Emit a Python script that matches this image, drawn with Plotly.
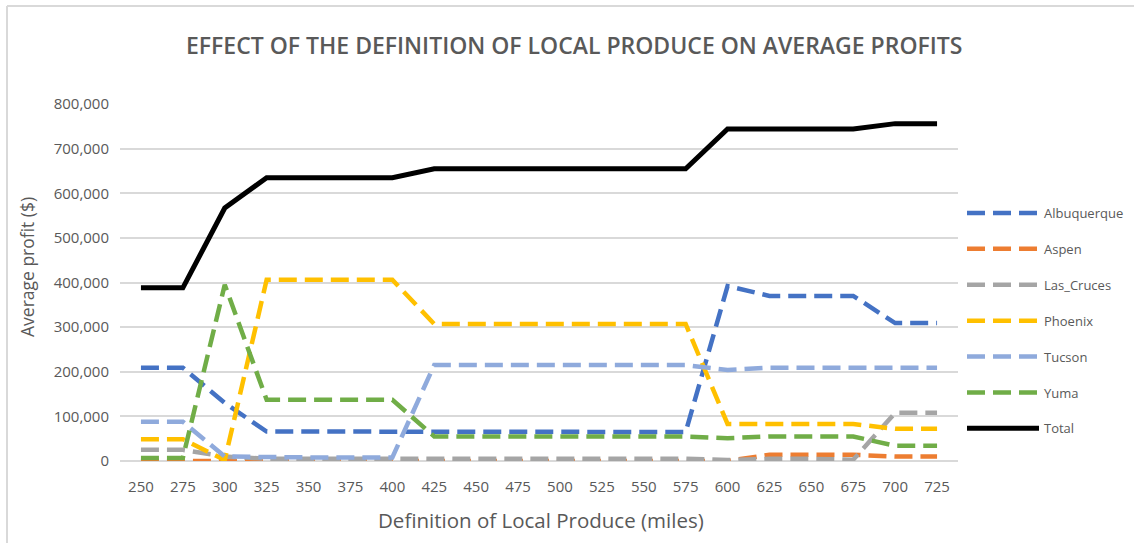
import plotly.graph_objects as go

# Definition of local produce (miles)
miles = ["250", "275", "300", "325", "350", "375", "400", "425", "450", "475",
         "500", "525", "550", "575", "600", "625", "650", "675", "700", "725"]

# Average profit ($) by location
albuquerque = [209000, 209000, 130000, 66000, 66000, 66000, 66000, 65000, 65000, 65000,
               65000, 65000, 65000, 65000, 392000, 370000, 370000, 370000, 309000, 309000]
aspen = [0, 0, 2000, 0, 0, 0, 0, 0, 0, 0,
         0, 0, 0, 0, 0, 14000, 14000, 14000, 10000, 10000]
las_cruces = [25000, 25000, 10000, 5000, 5000, 5000, 5000, 5000, 5000, 5000,
              5000, 5000, 5000, 5000, 2000, 5000, 5000, 3000, 108000, 108000]
phoenix = [49000, 49000, 2000, 406000, 406000, 406000, 406000, 307000, 307000, 307000,
           307000, 307000, 307000, 307000, 83000, 83000, 83000, 83000, 72000, 72000]
tucson = [88000, 88000, 10000, 8000, 8000, 8000, 8000, 215000, 215000, 215000,
          215000, 215000, 215000, 215000, 204000, 209000, 209000, 209000, 209000, 209000]
yuma = [7000, 7000, 395000, 137000, 137000, 137000, 137000, 55000, 55000, 55000,
        55000, 55000, 55000, 55000, 51000, 55000, 55000, 55000, 34000, 34000]
total = [388000, 388000, 567000, 635000, 635000, 635000, 635000, 655000, 655000, 655000,
         655000, 655000, 655000, 655000, 744000, 744000, 744000, 744000, 756000, 756000]

series = [
    ("Albuquerque", albuquerque, "#4472C4", "18px,8px", 4.5),
    ("Aspen", aspen, "#ED7D31", "18px,8px", 4.5),
    ("Las_Cruces", las_cruces, "#A5A5A5", "18px,8px", 4.5),
    ("Phoenix", phoenix, "#FFC000", "18px,8px", 4.5),
    ("Tucson", tucson, "#8FAADC", "18px,8px", 4.5),
    ("Yuma", yuma, "#70AD47", "18px,8px", 4.5),
    ("Total", total, "#000000", "solid", 5),
]

W, H = 1134, 543
L, R, T, B = 120, 176, 104, 82
pw, ph = W - L - R, H - T - B

fig = go.Figure()
for name, vals, color, dash, width in series:
    fig.add_trace(go.Scatter(
        x=miles, y=vals, name=name, mode="lines", legendgroup=name,
        line=dict(color=color, width=width, dash=dash),
    ))

grey = "#595959"

def px_x(px):
    return (px - L) / pw

def px_y(py):
    return (H - B - py) / ph

fig.update_layout(
    width=W, height=H,
    margin=dict(l=L, r=R, t=T, b=B, autoexpand=False),
    paper_bgcolor="white", plot_bgcolor="white",
    font=dict(family="Open Sans", color=grey),
    showlegend=True,
    legend=dict(
        x=px_x(962), y=px_y(321), xanchor="left", yanchor="middle",
        font=dict(family="Open Sans", size=13, color=grey),
        tracegroupgap=16, itemwidth=72,
        bgcolor="rgba(0,0,0,0)",
    ),
    xaxis=dict(
        type="category", range=[-0.5, len(miles) - 0.5],
        showgrid=False, showline=False, ticks="",
        tickfont=dict(size=15, color=grey), ticklabelstandoff=15,
    ),
    yaxis=dict(
        range=[0, 800000], dtick=100000, tickformat=",d",
        showgrid=True, gridcolor="#D9D9D9", gridwidth=1.5,
        zeroline=True, zerolinecolor="#D9D9D9", zerolinewidth=1.5,
        showline=False, ticks="",
        tickfont=dict(size=15, color=grey), ticklabelstandoff=10,
    ),
    annotations=[
        dict(text="EFFECT OF THE DEFINITION OF LOCAL PRODUCE ON AVERAGE PROFITS",
             xref="paper", yref="paper", x=px_x(574), y=px_y(45),
             xanchor="center", yanchor="middle", showarrow=False,
             font=dict(family="Open Sans", size=23, color=grey, weight=600)),
        dict(text="Definition of Local Produce (miles)",
             xref="paper", yref="paper", x=px_x(541), y=px_y(520),
             xanchor="center", yanchor="middle", showarrow=False,
             font=dict(family="Open Sans", size=20.5, color=grey)),
        dict(text="Average profit ($)", textangle=-90,
             xref="paper", yref="paper", x=px_x(27), y=px_y(267),
             xanchor="center", yanchor="middle", showarrow=False,
             font=dict(family="Open Sans", size=17.5, color=grey)),
    ],
    shapes=[
        dict(type="line", xref="paper", yref="paper",
             x0=px_x(7), x1=px_x(7), y0=px_y(545), y1=px_y(6),
             line=dict(color="#D9D9D9", width=2)),
        dict(type="line", xref="paper", yref="paper",
             x0=px_x(7), x1=px_x(1136), y0=px_y(6), y1=px_y(6),
             line=dict(color="#D9D9D9", width=2)),
    ],
)

fig.write_html("out.html")
